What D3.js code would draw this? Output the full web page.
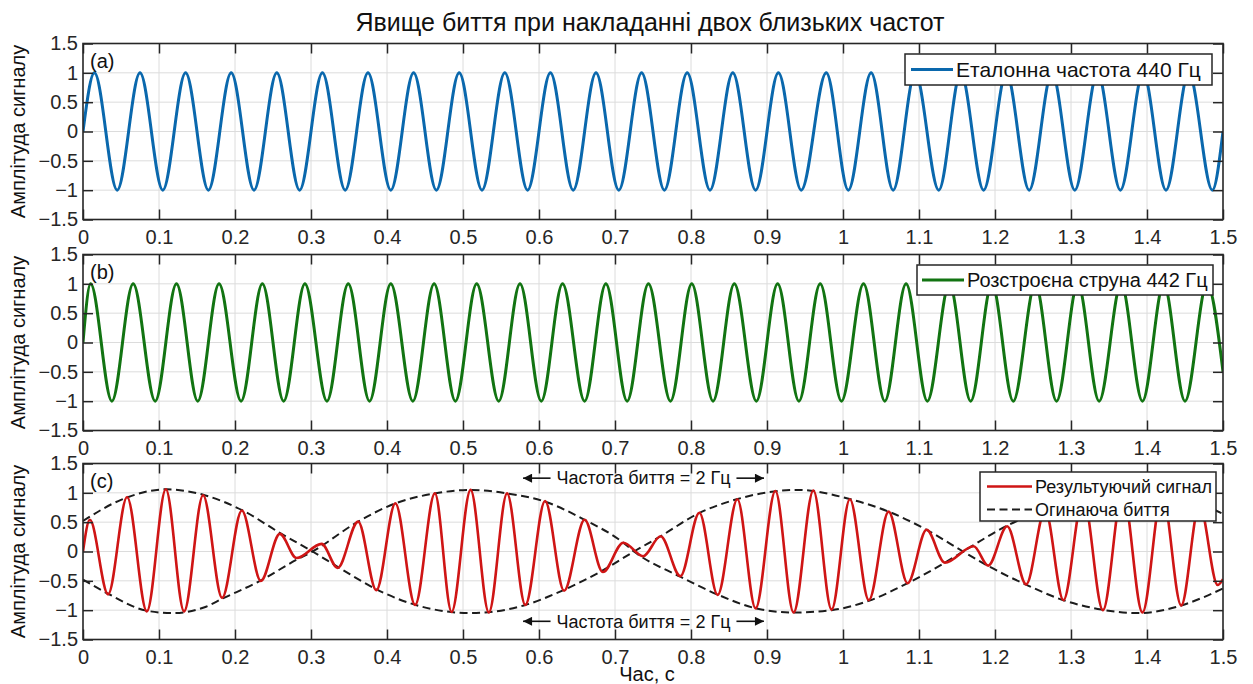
<!DOCTYPE html>
<html>
<head>
<meta charset="utf-8">
<script src="https://cdn.jsdelivr.net/npm/d3@7"></script>
<style>
  body { margin: 0; background: #fff; }
  svg { display: block; }
</style>
</head>
<body>
<div id="chart"></div>
<script>
// axis ticks
const timeTicks = [0, 0.1, 0.2, 0.3, 0.4, 0.5, 0.6, 0.7, 0.8, 0.9, 1, 1.1, 1.2, 1.3, 1.4, 1.5];
const ampTicks = [-1.5, -1, -0.5, 0, 0.5, 1, 1.5];

// (a) reference tone: times of maxima (+1) and minima (-1), plus end points
const refPeaks = [0.015, 0.075, 0.135, 0.195, 0.255, 0.315, 0.375, 0.435, 0.495, 0.555, 0.615, 0.675, 0.735,
  0.795, 0.855, 0.915, 0.978, 1.037, 1.095, 1.155, 1.215, 1.275, 1.335, 1.395, 1.455];
const refTroughs = [0.045, 0.105, 0.165, 0.225, 0.285, 0.345, 0.405, 0.465, 0.525, 0.585, 0.645, 0.705, 0.765,
  0.825, 0.885, 0.945, 1.007, 1.066, 1.126, 1.185, 1.245, 1.305, 1.365, 1.425, 1.486];
const refEnds = [[0, 0], [1.5, 0]];

// (b) detuned string
const detPeaks = [0.010, 0.066, 0.123, 0.179, 0.236, 0.292, 0.349, 0.405, 0.462, 0.518, 0.575, 0.631, 0.688, 0.744,
  0.801, 0.857, 0.914, 0.970, 1.027, 1.083, 1.140, 1.196, 1.253, 1.309, 1.366, 1.422, 1.479];
const detTroughs = [0.038, 0.095, 0.151, 0.208, 0.264, 0.321, 0.377, 0.434, 0.490, 0.547, 0.603, 0.660, 0.716,
  0.773, 0.829, 0.886, 0.942, 0.998, 1.055, 1.111, 1.168, 1.224, 1.281, 1.337, 1.394, 1.450];
const detEnds = [[0, 0], [1.5, -0.5]];

// (c) resulting signal, extremes [t, value]
const beatSignal = [
  [0, 0], [0.009, 0.54], [0.033, -0.73], [0.058, 0.93], [0.084, -1.02], [0.109, 1.06], [0.133, -1.02],
  [0.158, 0.96], [0.183, -0.79], [0.209, 0.70], [0.234, -0.50], [0.259, 0.30], [0.281, -0.11], [0.314, 0.13],
  [0.335, -0.28], [0.362, 0.51], [0.386, -0.66], [0.411, 0.82], [0.437, -0.91], [0.463, 0.99], [0.485, -1.03],
  [0.510, 1.05], [0.534, -1.04], [0.558, 0.99], [0.582, -0.91], [0.608, 0.86], [0.633, -0.67], [0.660, 0.54],
  [0.684, -0.35], [0.711, 0.15], [0.737, -0.08], [0.760, 0.26], [0.786, -0.42], [0.811, 0.66], [0.835, -0.74],
  [0.861, 0.89], [0.885, -0.97], [0.911, 1.03], [0.935, -1.04], [0.961, 1.04], [0.985, -0.99], [1.009, 0.89],
  [1.034, -0.83], [1.060, 0.68], [1.085, -0.54], [1.110, 0.37], [1.134, -0.19], [1.172, 0.09], [1.191, -0.24],
  [1.216, 0.43], [1.241, -0.56], [1.266, 0.71], [1.290, -0.83], [1.316, 0.93], [1.342, -1.00], [1.368, 1.04],
  [1.394, -1.04], [1.420, 1.00], [1.445, -0.92], [1.469, 0.80], [1.493, -0.57], [1.5, -0.47]
];

// beat envelopes (two dashed curves)
const envelopeA = [
  [0, 0.52], [0.05, 0.88], [0.11, 1.06], [0.16, 0.96], [0.21, 0.70], [0.26, 0.31], [0.302, 0], [0.34, -0.30],
  [0.39, -0.67], [0.44, -0.92], [0.51, -1.05], [0.58, -0.92], [0.63, -0.67], [0.68, -0.35], [0.725, 0],
  [0.76, 0.26], [0.81, 0.65], [0.86, 0.89], [0.94, 1.05], [1.01, 0.89], [1.06, 0.68], [1.11, 0.37], [1.158, 0],
  [1.19, -0.24], [1.24, -0.56], [1.29, -0.83], [1.34, -0.99], [1.39, -1.05], [1.445, -0.92], [1.5, -0.63]
];
const envelopeB = [
  [0, -0.48], [0.033, -0.72], [0.084, -1.01], [0.118, -1.05], [0.16, -0.95], [0.184, -0.80], [0.233, -0.50],
  [0.281, -0.14], [0.302, 0], [0.362, 0.51], [0.411, 0.82], [0.463, 0.99], [0.51, 1.05], [0.558, 0.99],
  [0.608, 0.85], [0.66, 0.54], [0.711, 0.15], [0.725, 0], [0.786, -0.43], [0.836, -0.74], [0.886, -0.97],
  [0.935, -1.04], [0.985, -1.00], [1.034, -0.84], [1.085, -0.54], [1.134, -0.19], [1.158, 0], [1.216, 0.44],
  [1.266, 0.72], [1.316, 0.92], [1.368, 1.03], [1.42, 1.00], [1.469, 0.82], [1.5, 0.64]
];

// texts
const titleText = "Явище биття при накладанні двох близьких частот";
const yLabel = "Амплітуда сигналу";
const xLabel = "Час, с";
const panelLetters = ["(a)", "(b)", "(c)"];
const legendRef = "Еталонна частота 440 Гц";
const legendDet = "Розстроєна струна 442 Гц";
const legendSum = "Результуючий сигнал";
const legendEnv = "Огинаюча биття";
const beatNote = "Частота биття = 2 Гц";
const beatArrowT = [0.579, 0.896];   // arrow tips on the time axis
const beatNoteLevels = [1.25, -1.19];

const font = "'Liberation Sans', Arial, sans-serif";
const ink = "#262626";
const width = 1253, height = 684;
const left = 83, right = 1223, panelH = 176;
const panelTops = [43.5, 254.5, 463.5];

const svg = d3.select("#chart").append("svg")
  .attr("width", width)
  .attr("height", height)
  .style("font-family", font);

const x = d3.scaleLinear().domain([0, 1.5]).range([left, right]);
const fmt = d3.format("~g");

// title
svg.append("text")
  .attr("x", 650).attr("y", 31)
  .attr("text-anchor", "middle")
  .attr("font-size", 25)
  .attr("fill", "#111")
  .text(titleText);

svg.append("defs").append("marker")
  .attr("id", "arrow")
  .attr("viewBox", "0 0 10 10")
  .attr("refX", 10).attr("refY", 5)
  .attr("markerWidth", 11).attr("markerHeight", 9)
  .attr("markerUnits", "userSpaceOnUse")
  .attr("orient", "auto")
  .append("path").attr("d", "M0,0L10,5L0,10z").attr("fill", "#111");

function extremaPoints(peaks, troughs, ends) {
  return ends.concat(peaks.map(t => [t, 1]), troughs.map(t => [t, -1]))
    .sort((a, b) => a[0] - b[0]);
}

function makePanel(i) {
  const top = panelTops[i];
  const bottom = top + panelH;
  const y = d3.scaleLinear().domain([-1.5, 1.5]).range([bottom, top]);
  const g = svg.append("g");

  g.append("clipPath").attr("id", "clip" + i)
    .append("rect").attr("x", left).attr("y", top).attr("width", right - left).attr("height", panelH);

  // grid
  g.append("g").selectAll("line").data(timeTicks.slice(1, -1)).join("line")
    .attr("x1", d => x(d)).attr("x2", d => x(d))
    .attr("y1", top).attr("y2", bottom)
    .attr("stroke", "#dcdcdc").attr("stroke-width", 1);
  g.append("g").selectAll("line").data(ampTicks.slice(1, -1)).join("line")
    .attr("x1", left).attr("x2", right)
    .attr("y1", d => y(d)).attr("y2", d => y(d))
    .attr("stroke", "#dcdcdc").attr("stroke-width", 1);

  // y label
  svg.append("text")
    .attr("transform", `translate(25,${(top + bottom) / 2}) rotate(-90)`)
    .attr("text-anchor", "middle")
    .attr("font-size", 20)
    .attr("fill", "#111")
    .text(yLabel);

  return { g, y, top, bottom, clip: "url(#clip" + i + ")" };
}

function drawAxes(p, letter) {
  const { g, y, top, bottom } = p;
  const style = s => {
    s.select(".domain").remove();
    s.attr("font-family", font).attr("font-size", 20).attr("color", ink);
    s.selectAll(".tick line").attr("stroke-width", 1.5);
  };
  g.append("g").attr("transform", `translate(0,${bottom})`)
    .call(d3.axisBottom(x).tickValues(timeTicks).tickFormat(fmt).tickSizeInner(-10).tickSizeOuter(0).tickPadding(10))
    .call(style);
  g.append("g").attr("transform", `translate(0,${top})`)
    .call(d3.axisTop(x).tickValues(timeTicks).tickFormat("").tickSizeInner(-10).tickSizeOuter(0))
    .call(style);
  g.append("g").attr("transform", `translate(${left},0)`)
    .call(d3.axisLeft(y).tickValues(ampTicks).tickFormat(fmt).tickSizeInner(-10).tickSizeOuter(0).tickPadding(5))
    .call(style);
  g.append("g").attr("transform", `translate(${right},0)`)
    .call(d3.axisRight(y).tickValues(ampTicks).tickFormat("").tickSizeInner(-10).tickSizeOuter(0))
    .call(style);

  g.append("rect")
    .attr("x", left).attr("y", top)
    .attr("width", right - left).attr("height", panelH)
    .attr("fill", "none").attr("stroke", ink).attr("stroke-width", 1.6);

  g.append("text")
    .attr("x", left + 7).attr("y", top + 24)
    .attr("font-size", 20).attr("fill", "#111")
    .text(letter);
}

function drawLegend(g, box, items, fontSize) {
  const lg = g.append("g");
  lg.append("rect")
    .attr("x", box.x).attr("y", box.y).attr("width", box.w).attr("height", box.h)
    .attr("fill", "#fff").attr("stroke", ink).attr("stroke-width", 1.5);
  items.forEach((it, k) => {
    const cy = box.y + box.rows[k];
    lg.append("line")
      .attr("x1", box.x + box.pad).attr("x2", box.x + box.pad + box.len)
      .attr("y1", cy).attr("y2", cy)
      .attr("stroke", it.color).attr("stroke-width", it.width)
      .attr("stroke-dasharray", it.dash || null);
    lg.append("text")
      .attr("x", box.x + box.pad + box.len + 3).attr("y", cy)
      .attr("dy", "0.35em")
      .attr("font-size", fontSize).attr("fill", "#111")
      .text(it.label);
  });
}

function curve(p, data, color, w, dash) {
  const line = d3.line()
    .x(d => x(d[0]))
    .y(d => p.y(d[1]))
    .curve(d3.curveMonotoneX);
  p.g.append("path")
    .datum(data)
    .attr("clip-path", p.clip)
    .attr("fill", "none")
    .attr("stroke", color)
    .attr("stroke-width", w)
    .attr("stroke-linejoin", "round")
    .attr("stroke-dasharray", dash || null)
    .attr("d", line);
}

const blue = "#0a68ad", green = "#127412", red = "#cf1515", dark = "#1c1c1c";

// (a)
const pa = makePanel(0);
curve(pa, extremaPoints(refPeaks, refTroughs, refEnds), blue, 3);
drawAxes(pa, panelLetters[0]);
drawLegend(pa.g, { x: 905, y: 54, w: 307, h: 31, pad: 6, len: 42, rows: [15.5] },
  [{ label: legendRef, color: blue, width: 3 }], 21);

// (b)
const pb = makePanel(1);
curve(pb, extremaPoints(detPeaks, detTroughs, detEnds), green, 3);
drawAxes(pb, panelLetters[1]);
drawLegend(pb.g, { x: 917, y: 265, w: 296, h: 30, pad: 5, len: 42, rows: [15] },
  [{ label: legendDet, color: green, width: 3 }], 20);

// (c)
const pc = makePanel(2);
curve(pc, envelopeA, dark, 2, "8,4.5");
curve(pc, envelopeB, dark, 2, "8,4.5");
curve(pc, beatSignal, red, 2.6);
drawAxes(pc, panelLetters[2]);
drawLegend(pc.g, { x: 980, y: 472, w: 236, h: 49, pad: 7, len: 45, rows: [14.5, 37.5] },
  [{ label: legendSum, color: red, width: 2.6 }, { label: legendEnv, color: dark, width: 2, dash: "8,4.5" }], 18);

// beat-frequency notes with arrows
beatNoteLevels.forEach(v => {
  const cy = pc.y(v);
  const cx = x((beatArrowT[0] + beatArrowT[1]) / 2);
  const t = pc.g.append("text")
    .attr("x", cx).attr("y", cy).attr("dy", "0.35em")
    .attr("text-anchor", "middle")
    .attr("font-size", 18).attr("fill", "#111")
    .text(beatNote);
  const half = t.node().getComputedTextLength() / 2;
  pc.g.append("line")
    .attr("x1", cx - half - 6).attr("x2", x(beatArrowT[0]))
    .attr("y1", cy).attr("y2", cy)
    .attr("stroke", "#111").attr("stroke-width", 1.6)
    .attr("marker-end", "url(#arrow)");
  pc.g.append("line")
    .attr("x1", cx + half + 6).attr("x2", x(beatArrowT[1]))
    .attr("y1", cy).attr("y2", cy)
    .attr("stroke", "#111").attr("stroke-width", 1.6)
    .attr("marker-end", "url(#arrow)");
});

// x label
svg.append("text")
  .attr("x", 647).attr("y", 681)
  .attr("text-anchor", "middle")
  .attr("font-size", 20)
  .attr("fill", "#111")
  .text(xLabel);
</script>
</body>
</html>
